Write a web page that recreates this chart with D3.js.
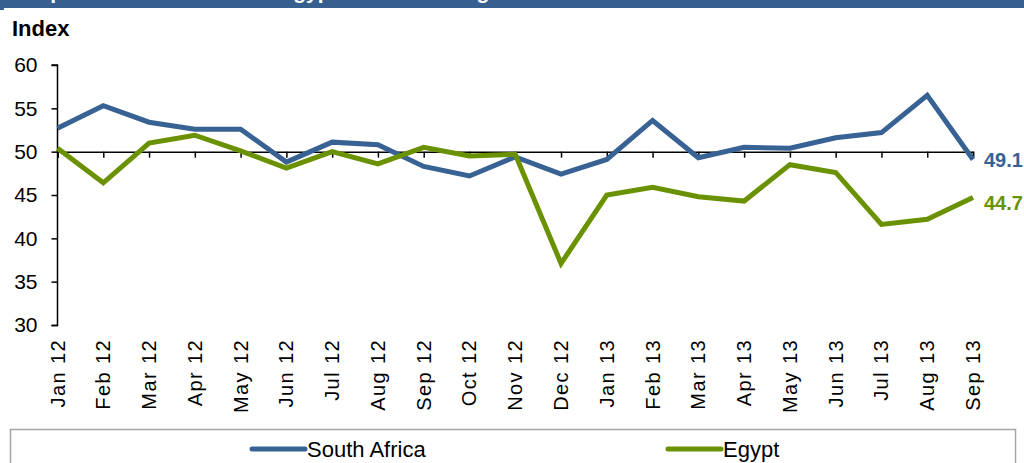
<!DOCTYPE html>
<html><head><meta charset="utf-8">
<script src="https://cdn.jsdelivr.net/npm/d3@7"></script>
<style>
html,body{margin:0;padding:0;background:#fff;}
svg{display:block;}
</style></head>
<body>
<svg id="c" width="1024" height="463"></svg>
<script>
const months = ["Jan 12","Feb 12","Mar 12","Apr 12","May 12","Jun 12","Jul 12","Aug 12","Sep 12","Oct 12","Nov 12","Dec 12","Jan 13","Feb 13","Mar 13","Apr 13","May 13","Jun 13","Jul 13","Aug 13","Sep 13"];
const southAfrica = [52.7,55.3,53.4,52.6,52.6,48.8,51.1,50.8,48.3,47.2,49.4,47.4,49.1,53.6,49.3,50.5,50.4,51.6,52.2,56.5,49.1];
const egypt = [50.4,46.4,51.0,51.9,50.1,48.1,50.0,48.6,50.5,49.5,49.7,37.1,45.0,45.9,44.8,44.3,48.5,47.6,41.6,42.2,44.7];
const yTicks = [30,35,40,45,50,55,60];
const seriesNames = ["South Africa","Egypt"];
const colors = ["#376293","#6a9100"];

const svg = d3.select("#c");
const font = "'Liberation Sans', Arial, sans-serif";

// top banner (title cut off at the top edge as in the reference)
svg.append("rect").attr("x",0).attr("y",0).attr("width",1024).attr("height",8).attr("fill","#375f8f");
svg.append("rect").attr("x",0).attr("y",8).attr("width",4).attr("height",2).attr("fill","#375f8f");
svg.append("clipPath").attr("id","bc").append("rect").attr("x",0).attr("y",0).attr("width",1024).attr("height",8);
svg.append("text").attr("clip-path","url(#bc)").attr("x",14).attr("y",-1).attr("fill","#fff")
  .attr("font-family",font).attr("font-weight","bold").attr("font-size",21)
  .text("Graph 1: South Africa and Egypt manufacturing PMI");

const x = d3.scalePoint().domain(months).range([57.5, 973]);
const y = d3.scaleLinear().domain([30,60]).range([325,65]);

// y axis
const ya = svg.append("g").attr("transform","translate(57.5,0)")
  .call(d3.axisLeft(y).tickValues(yTicks).tickSize(6).tickPadding(14).tickFormat(d3.format("d")));
ya.select(".domain").attr("stroke","#000").attr("stroke-width",1.5).attr("d","M-6,325.5H0V65H-6");
ya.selectAll(".tick line").attr("stroke","#000").attr("stroke-width",1.5);
ya.selectAll("text").attr("font-family",font).attr("font-size",21).attr("fill","#000");

// x axis at 50
const xa = svg.append("g").attr("transform",`translate(0,${y(50)})`)
  .call(d3.axisBottom(x).tickSize(6).tickFormat(""));
xa.select(".domain").attr("stroke","#000").attr("stroke-width",1.5);
xa.selectAll(".tick line").attr("stroke","#000").attr("stroke-width",1.5);

// x labels
svg.append("g").selectAll("text").data(months).join("text")
  .attr("transform",d=>`translate(${x(d)+7},339) rotate(-90)`)
  .attr("text-anchor","end")
  .attr("font-family",font).attr("font-size",20).attr("letter-spacing","1.4px").attr("fill","#000")
  .text(d=>d);

// lines
const line = d3.line().x((d,i)=>x(months[i])).y(d=>y(d));
[southAfrica, egypt].forEach((s,k)=>{
  svg.append("path").datum(s).attr("d",line).attr("fill","none")
    .attr("stroke",colors[k]).attr("stroke-width",5).attr("stroke-linejoin","miter");
});

// end labels
const endOff = [8, 12];
[southAfrica, egypt].forEach((s,k)=>{
  svg.append("text").attr("x",984).attr("y",y(s[s.length-1])+endOff[k])
    .attr("font-family",font).attr("font-weight","bold").attr("font-size",20)
    .attr("fill",colors[k]).text(s[s.length-1].toFixed(1));
});

// title
svg.append("text").attr("x",12).attr("y",36).attr("font-family",font).attr("font-weight","bold")
  .attr("font-size",22).attr("fill","#000").text("Index");

// legend
svg.append("rect").attr("x",10.5).attr("y",429.5).attr("width",1005).attr("height",60)
  .attr("fill","#fff").attr("stroke","#a6a6a6").attr("stroke-width",1.5);
const legX = [252, 668];
seriesNames.forEach((n,k)=>{
  svg.append("line").attr("x1",legX[k]).attr("x2",legX[k]+53).attr("y1",449).attr("y2",449)
    .attr("stroke",colors[k]).attr("stroke-width",5).attr("stroke-linecap","round");
  svg.append("text").attr("x",legX[k]+55).attr("y",457)
    .attr("font-family","'Liberation Sans Narrow', 'Arial Narrow', 'Liberation Sans', sans-serif").attr("font-size",22)
    .attr("fill","#000").text(n);
});
</script>
</body></html>
